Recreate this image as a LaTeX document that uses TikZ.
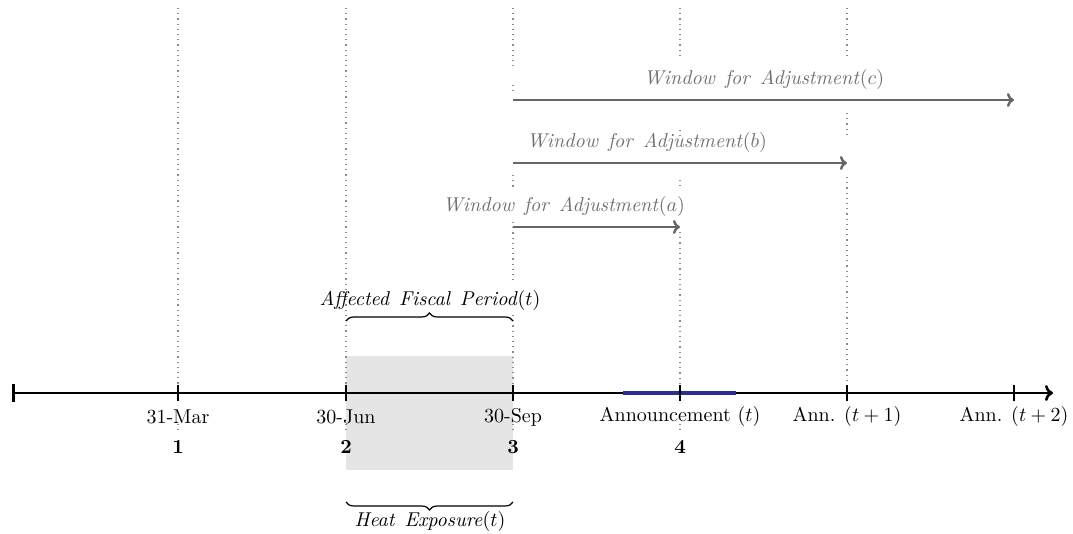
\documentclass[tikz,border=0pt]{standalone}
\usetikzlibrary{decorations.pathreplacing,arrows.meta}
\definecolor{winarrow}{HTML}{666666}
\definecolor{wintext}{HTML}{707070}
\definecolor{guidegray}{HTML}{8C8C8C}
\definecolor{boxgray}{HTML}{E5E5E5}
\definecolor{annblue}{HTML}{2B2F8C}
\tikzset{
  guide/.style={guidegray, line width=0.6pt, dotted},
  axisline/.style={black, line width=1.3pt},
  tickmark/.style={black, line width=1.1pt},
  winarr/.style={winarrow, line width=1.2pt, -{To[length=3.5pt,width=7pt]}},
  winlabel/.style={text=wintext, inner sep=1pt},
  datelabel/.style={inner sep=1pt, font=\normalsize},
  numlabel/.style={inner sep=1pt, font=\bfseries},
  bracelabel/.style={inner sep=1pt},
  bracepath/.style={black, line width=0.6pt, decorate, decoration={brace, amplitude=4pt}}
}
\newcommand{\widespace}{\hspace{0.5em}}
\begin{document}
\begin{tikzpicture}[x=0.5pt,y=-0.5pt]
\useasboundingbox (0,0) rectangle (1073,534);
% exposure box
\fill[boxgray] (346,356) rectangle (513,470);
% guide lines
\draw[guide] (178,8) -- (178,393);
\draw[guide] (178,424) -- (178,434);
\draw[guide] (346,8) -- (346,393);
\draw[guide] (346,424) -- (346,434);
\draw[guide] (513,8) -- (513,70);
\draw[guide] (513,85) -- (513,95);
\draw[guide] (513,175) -- (513,188);
\draw[guide] (513,222) -- (513,283);
\draw[guide] (513,315) -- (513,393);
\draw[guide] (513,424) -- (513,434);
\draw[guide] (680,8) -- (680,55);
\draw[guide] (680,130) -- (680,140);
\draw[guide] (680,180) -- (680,187);
\draw[guide] (680,232) -- (680,393);
\draw[guide] (680,424) -- (680,434);
\draw[guide] (847,8) -- (847,55);
\draw[guide] (847,113) -- (847,137);
\draw[guide] (847,177) -- (847,393);
% axis
\coordinate (a0) at (12,393);
\coordinate (a1) at (1053,393);
\coordinate (t1) at (178,393);
\coordinate (t2) at (346,393);
\coordinate (t3) at (513,393);
\coordinate (t4) at (680,393);
\coordinate (t5) at (847,393);
\coordinate (t6) at (1014,393);
\coordinate (b0) at (623,393);
\coordinate (b1) at (736,393);
\draw[axisline, {Bar[width=9pt]}-{To[length=4pt,width=8pt]}] (a0) -- (a1);
\draw[annblue, line width=1.6pt] (b0) -- (b1);
\foreach \t in {t1,t2,t3,t4,t5,t6}{
  \draw[tickmark] ([yshift=-4pt]\t) -- ([yshift=4pt]\t);
}
% date labels
\node[datelabel] (l1) at (178,417) {31-Mar};
\node[datelabel] (l2) at (346,417) {30-Jun};
\node[datelabel] (l3) at (513,417) {30-Sep};
\node[datelabel] (l4) at (680,417) {Announcement $(t)$};
\node[datelabel] (l5) at (847,417) {Ann. $(t+1)$};
\node[datelabel] (l6) at (1014,417) {Ann. $(t+2)$};
\node[numlabel] (n1) at (178,447) {1};
\node[numlabel] (n2) at (346,447) {2};
\node[numlabel] (n3) at (513,447) {3};
\node[numlabel] (n4) at (680,447) {4};
% windows
\coordinate (wa0) at (513,227);
\coordinate (wa1) at (680,227);
\coordinate (wb0) at (513,163);
\coordinate (wb1) at (847,163);
\coordinate (wc0) at (513,100);
\coordinate (wc1) at (1014,100);
\draw[winarr] (wa0) -- (wa1);
\draw[winarr] (wb0) -- (wb1);
\draw[winarr] (wc0) -- (wc1);
\node[winlabel] (la) at (564,207) {\textit{Window\widespace for\widespace Adjustment}$(a)$};
\node[winlabel] (lb) at (647,143) {\textit{Window\widespace for\widespace Adjustment}$(b)$};
\node[winlabel] (lc) at (764,80) {\textit{Window\widespace for\widespace Adjustment}$(c)$};
% braces
\coordinate (fb0) at (346,321);
\coordinate (fb1) at (513,321);
\draw[bracepath] (fb0) -- (fb1);
\node[bracelabel] (fp) at (430,301) {\textit{Affected\widespace Fiscal\widespace Period}$(t)$};
\coordinate (hb0) at (513,502);
\coordinate (hb1) at (346,502);
\draw[bracepath] (hb0) -- (hb1);
\node[bracelabel] (he) at (430,522) {\textit{Heat\widespace Exposure}$(t)$};
\end{tikzpicture}
\end{document}
